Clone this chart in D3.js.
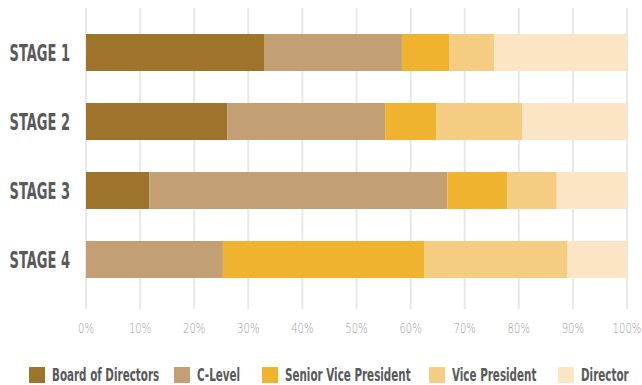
<!DOCTYPE html>
<html>
<head>
<meta charset="utf-8">
<script src="https://cdn.jsdelivr.net/npm/d3@7"></script>
<style>
	body { margin: 0; background: #fff; }
	svg { display: block; }
</style>
</head>
<body>
<div id="chart"></div>
<script>
// chart values (percent of each stage)
var stages = ["STAGE 1", "STAGE 2", "STAGE 3", "STAGE 4"];
var seriesNames = ["Board of Directors", "C-Level", "Senior Vice President", "Vice President", "Director"];
var boardOfDirectors = [32.9, 26.1, 11.7, 0];
var cLevel = [25.5, 29.2, 55.1, 25.3];
var seniorVicePresident = [8.8, 9.5, 11.1, 37.3];
var vicePresident = [8.3, 15.8, 9.1, 26.4];
var director = [24.5, 19.4, 13.0, 11.0];
var tickValues = [0, 10, 20, 30, 40, 50, 60, 70, 80, 90, 100];

var colors = ["#9e742c", "#c2a073", "#f0b32f", "#f5cd82", "#fce5c5"];
var legendX = [29, 174, 262, 429, 558];
var condensed = "'DejaVu Sans Condensed', 'DejaVu Sans', sans-serif";

var W = 642, H = 385;
var svg = d3.select("#chart").append("svg")
	.attr("width", W)
	.attr("height", H);

// rows for the stack layout
var cols = [boardOfDirectors, cLevel, seniorVicePresident, vicePresident, director];
var rows = stages.map(function(s, i) {
	var r = {stage: s};
	seriesNames.forEach(function(n, j) { r[n] = cols[j][i]; });
	return r;
});
var stacked = d3.stack().keys(seriesNames)(rows);

var x = d3.scaleLinear().domain([0, 100]).range([86, 627]);
var y = d3.scaleBand().domain(stages)
	.range([16.75, 295.25])
	.paddingInner(0.464)
	.paddingOuter(0.25);

// grid
svg.append("g").selectAll("line")
	.data(tickValues)
	.enter().append("line")
	.attr("x1", function(d) { return x(d); })
	.attr("x2", function(d) { return x(d); })
	.attr("y1", 8)
	.attr("y2", 309)
	.attr("stroke", "#e8e8e8")
	.attr("stroke-width", 2);

// tick labels
svg.append("g").selectAll("text")
	.data(tickValues)
	.enter().append("text")
	.attr("transform", function(d) { return "translate(" + x(d) + ",333) scale(0.72,1)"; })
	.attr("text-anchor", "middle")
	.style("font-family", "'DejaVu Sans', sans-serif")
	.style("font-weight", "200")
	.style("font-size", "14px")
	.style("fill", "#9a9a9a")
	.text(function(d) { return d + "%"; });

// bars
svg.append("g").selectAll("g")
	.data(stacked)
	.enter().append("g")
	.attr("fill", function(d, i) { return colors[i]; })
	.selectAll("rect")
	.data(function(d) { return d; })
	.enter().append("rect")
	.attr("x", function(d) { return x(d[0]); })
	.attr("width", function(d) { return x(d[1]) - x(d[0]); })
	.attr("y", function(d) { return y(d.data.stage); })
	.attr("height", y.bandwidth());

// stage labels
svg.append("g").selectAll("text")
	.data(stages)
	.enter().append("text")
	.attr("transform", function(d) {
		return "translate(70," + (y(d) + y.bandwidth() / 2 + 8.5) + ") scale(0.63,1)";
	})
	.attr("text-anchor", "end")
	.style("font-family", condensed)
	.style("font-weight", "bold")
	.style("font-size", "23px")
	.style("fill", "#58595b")
	.text(function(d) { return d; });

// legend
var leg = svg.append("g").selectAll("g")
	.data(seriesNames)
	.enter().append("g")
	.attr("transform", function(d, i) { return "translate(" + legendX[i] + ",367)"; });
leg.append("rect")
	.attr("width", 16)
	.attr("height", 16)
	.attr("fill", function(d, i) { return colors[i]; });
leg.append("text")
	.attr("transform", "translate(23,14) scale(0.64,1)")
	.style("font-family", condensed)
	.style("font-weight", "bold")
	.style("font-size", "18px")
	.style("fill", "#58595b")
	.text(function(d) { return d; });
</script>
</body>
</html>
